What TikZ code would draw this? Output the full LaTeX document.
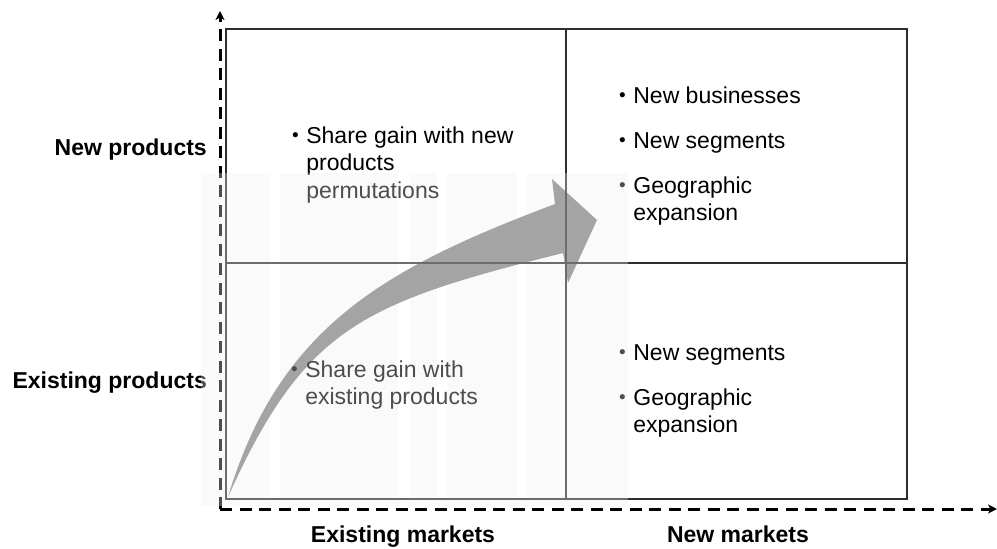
\documentclass[tikz,border=0pt]{standalone}
\usepackage{fontspec}
\setmainfont{Liberation Sans}
\usetikzlibrary{arrows.meta}

\definecolor{arrowgray}{RGB}{126,126,126}
\definecolor{gridline}{RGB}{45,45,45}
\definecolor{panelbg}{RGB}{249,249,249}

\newcommand{\bulletmark}{\raisebox{1.4pt}{\fontsize{19}{19}\selectfont\textbullet}}

\tikzset{
  gridstroke/.style={draw=gridline, line width=1.2pt},
  axisline/.style={line width=3pt, dash pattern=on 12pt off 7.5pt},
  axislabel/.style={inner sep=0pt, font=\fontsize{23}{27.5}\selectfont\bfseries},
  quadtext/.style={inner sep=0pt, anchor=base west, align=left,
                   font=\fontsize{23}{27.5}\selectfont},
}

\begin{document}
\begin{tikzpicture}[x=1pt, y=-1pt]
  \useasboundingbox (0,0) rectangle (997,549);

  % shaded panel behind the left-hand column, with pale vertical bands
  \fill[panelbg] (201,173) rectangle (628,506);
  \foreach \a/\b in {270/280, 398/410, 437/447, 517/527}
    \fill[white] (\a,173) rectangle (\b,498);

  % curved growth arrow from the origin into the new-markets column
  \fill[arrowgray]
    (228,497) .. controls (279,327) and (385,268) .. (555,204)
    -- (552,179) -- (597,220) -- (568,283) -- (563,253)
    .. controls (363,303) and (304.5,327) .. (228,497)
    -- cycle;

  % the 2x2 matrix
  \draw[gridstroke] (226,29) rectangle (907,499);
  \draw[gridstroke] (566,29) -- (566,499);
  \draw[gridstroke] (226,263) -- (907,263);

  % dashed axes
  \coordinate (origin) at (220,509);
  \coordinate (ytip) at (220,11);
  \coordinate (xtip) at (997,509);
  \draw[axisline, -{Stealth[length=9pt, width=9pt, inset=2.5pt]}] (origin) -- (ytip);
  \draw[axisline, -{Stealth[length=9pt, width=9pt, inset=2.5pt]}] (origin) -- (xtip);

  % axis labels
  \node[axislabel, anchor=base east] (newprod) at (207,155) {New products};
  \node[axislabel, anchor=base east] (existprod) at (207,388) {Existing products};
  \node[axislabel, anchor=base] (existmkt) at (403,542) {Existing markets};
  \node[axislabel, anchor=base] (newmkt) at (738,542) {New markets};

  % quadrant contents
  \node[quadtext] (qtl) at (292,143) {%
    \begin{tabular}[t]{@{}l@{\hspace{7.5pt}}l@{}}
      \bulletmark & Share gain with new\\
                  & products\\
                  & permutations
    \end{tabular}};
  \node[quadtext] (qtr) at (619,103) {%
    \begin{tabular}[t]{@{}l@{\hspace{7.5pt}}l@{}}
      \bulletmark & New businesses\\[17.5pt]
      \bulletmark & New segments\\[17.5pt]
      \bulletmark & Geographic\\
                  & expansion
    \end{tabular}};
  \node[quadtext] (qbl) at (291,377) {%
    \begin{tabular}[t]{@{}l@{\hspace{7.5pt}}l@{}}
      \bulletmark & Share gain with\\
                  & existing products
    \end{tabular}};
  \node[quadtext] (qbr) at (619,360) {%
    \begin{tabular}[t]{@{}l@{\hspace{7.5pt}}l@{}}
      \bulletmark & New segments\\[17.5pt]
      \bulletmark & Geographic\\
                  & expansion
    \end{tabular}};

  % translucent veil over the left-hand column
  \fill[white, opacity=0.3] (201,173) rectangle (628,506);
\end{tikzpicture}
\end{document}
